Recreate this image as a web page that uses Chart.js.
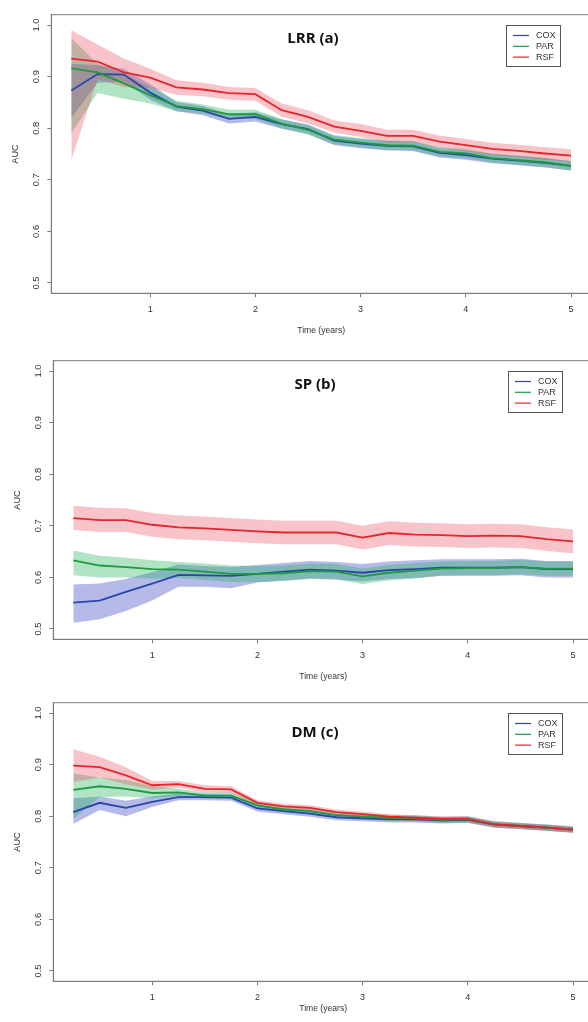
<!DOCTYPE html>
<html>
<head>
<meta charset="utf-8">
<script src="https://cdn.jsdelivr.net/npm/chart.js@4.4.1/dist/chart.umd.min.js"></script>
<style>
  html, body { margin: 0; padding: 0; background: #fff; width: 588px; height: 1022px; overflow: hidden; }
  canvas { position: absolute; }
</style>
</head>
<body>
<canvas id="lrr" width="600" height="340" style="left:0;top:0"></canvas>
<canvas id="sp" width="600" height="340" style="left:2px;top:346px"></canvas>
<canvas id="dm" width="600" height="340" style="left:2px;top:688px"></canvas>
<script>
// tempos de avaliação (anos)
const anos = [0.25, 0.5, 0.75, 1, 1.25, 1.5, 1.75, 2, 2.25, 2.5, 2.75, 3, 3.25, 3.5, 3.75, 4, 4.25, 4.5, 4.75, 5];
const ticksY = [0.5, 0.6, 0.7, 0.8, 0.9, 1.0];
const ticksX = [1, 2, 3, 4, 5];

// LRR (a)
const lrrCox = [0.873, 0.905, 0.904, 0.869, 0.842, 0.834, 0.818, 0.822, 0.808, 0.798, 0.776, 0.770, 0.766, 0.765, 0.752, 0.748, 0.741, 0.737, 0.733, 0.727];
const lrrCoxSup = [0.925, 0.922, 0.915, 0.885, 0.851, 0.843, 0.827, 0.831, 0.817, 0.807, 0.785, 0.779, 0.775, 0.774, 0.761, 0.757, 0.750, 0.746, 0.742, 0.736];
const lrrCoxInf = [0.820, 0.888, 0.890, 0.855, 0.833, 0.825, 0.809, 0.813, 0.799, 0.789, 0.767, 0.761, 0.757, 0.756, 0.743, 0.739, 0.732, 0.728, 0.724, 0.718];
const lrrPar = [0.916, 0.908, 0.887, 0.864, 0.843, 0.837, 0.827, 0.827, 0.809, 0.797, 0.778, 0.772, 0.767, 0.766, 0.754, 0.751, 0.742, 0.738, 0.734, 0.727];
const lrrParSup = [0.975, 0.925, 0.905, 0.880, 0.853, 0.846, 0.836, 0.836, 0.818, 0.806, 0.787, 0.781, 0.776, 0.775, 0.763, 0.760, 0.751, 0.747, 0.743, 0.736];
const lrrParInf = [0.790, 0.868, 0.857, 0.848, 0.833, 0.828, 0.818, 0.818, 0.800, 0.788, 0.769, 0.763, 0.758, 0.757, 0.745, 0.742, 0.733, 0.729, 0.725, 0.718];
const lrrRsf = [0.935, 0.929, 0.908, 0.898, 0.879, 0.875, 0.868, 0.866, 0.835, 0.822, 0.803, 0.795, 0.785, 0.785, 0.774, 0.767, 0.760, 0.756, 0.751, 0.747];
const lrrRsfSup = [0.990, 0.962, 0.935, 0.915, 0.893, 0.888, 0.880, 0.878, 0.848, 0.835, 0.815, 0.808, 0.797, 0.797, 0.786, 0.779, 0.772, 0.768, 0.763, 0.759];
const lrrRsfInf = [0.738, 0.895, 0.880, 0.878, 0.865, 0.862, 0.855, 0.853, 0.822, 0.809, 0.791, 0.783, 0.773, 0.773, 0.762, 0.755, 0.748, 0.744, 0.739, 0.735];

// SP (b)
const spCox = [0.551, 0.555, 0.572, 0.588, 0.605, 0.604, 0.603, 0.607, 0.611, 0.615, 0.613, 0.609, 0.614, 0.616, 0.619, 0.619, 0.619, 0.620, 0.616, 0.616];
const spCoxSup = [0.586, 0.588, 0.597, 0.610, 0.625, 0.622, 0.620, 0.624, 0.628, 0.632, 0.630, 0.626, 0.631, 0.633, 0.635, 0.635, 0.635, 0.636, 0.632, 0.632];
const spCoxInf = [0.512, 0.519, 0.535, 0.555, 0.582, 0.582, 0.579, 0.590, 0.594, 0.598, 0.596, 0.592, 0.597, 0.599, 0.603, 0.603, 0.603, 0.604, 0.600, 0.600];
const spPar = [0.633, 0.623, 0.620, 0.616, 0.615, 0.611, 0.607, 0.607, 0.608, 0.612, 0.611, 0.602, 0.609, 0.613, 0.617, 0.618, 0.618, 0.620, 0.617, 0.617];
const spParSup = [0.652, 0.642, 0.638, 0.633, 0.630, 0.627, 0.623, 0.622, 0.623, 0.627, 0.626, 0.617, 0.624, 0.628, 0.631, 0.632, 0.632, 0.634, 0.631, 0.631];
const spParInf = [0.604, 0.600, 0.600, 0.598, 0.599, 0.595, 0.591, 0.591, 0.593, 0.597, 0.596, 0.587, 0.594, 0.598, 0.603, 0.604, 0.604, 0.606, 0.603, 0.603];
const spRsf = [0.715, 0.711, 0.711, 0.702, 0.697, 0.695, 0.692, 0.689, 0.687, 0.687, 0.687, 0.677, 0.686, 0.683, 0.682, 0.680, 0.681, 0.680, 0.674, 0.670];
const spRsfSup = [0.739, 0.735, 0.734, 0.725, 0.720, 0.718, 0.715, 0.712, 0.710, 0.710, 0.710, 0.700, 0.709, 0.706, 0.705, 0.703, 0.704, 0.703, 0.697, 0.693];
const spRsfInf = [0.692, 0.688, 0.688, 0.679, 0.674, 0.672, 0.669, 0.666, 0.664, 0.664, 0.664, 0.654, 0.663, 0.660, 0.659, 0.657, 0.658, 0.657, 0.651, 0.647];

// DM (c)
const dmCox = [0.808, 0.826, 0.816, 0.828, 0.837, 0.837, 0.836, 0.815, 0.810, 0.805, 0.798, 0.796, 0.794, 0.794, 0.792, 0.793, 0.784, 0.781, 0.778, 0.774];
const dmCoxSup = [0.835, 0.838, 0.830, 0.838, 0.845, 0.843, 0.842, 0.821, 0.816, 0.811, 0.804, 0.802, 0.800, 0.800, 0.798, 0.799, 0.790, 0.787, 0.784, 0.780];
const dmCoxInf = [0.785, 0.812, 0.800, 0.818, 0.831, 0.831, 0.830, 0.809, 0.804, 0.799, 0.792, 0.790, 0.788, 0.788, 0.786, 0.787, 0.778, 0.775, 0.772, 0.768];
const dmPar = [0.851, 0.858, 0.853, 0.845, 0.846, 0.840, 0.840, 0.821, 0.813, 0.810, 0.802, 0.799, 0.797, 0.796, 0.793, 0.794, 0.784, 0.781, 0.778, 0.774];
const dmParSup = [0.883, 0.875, 0.870, 0.858, 0.853, 0.846, 0.846, 0.827, 0.819, 0.816, 0.808, 0.805, 0.803, 0.802, 0.799, 0.800, 0.790, 0.787, 0.784, 0.780];
const dmParInf = [0.795, 0.837, 0.838, 0.835, 0.839, 0.834, 0.834, 0.815, 0.807, 0.804, 0.796, 0.793, 0.791, 0.790, 0.787, 0.788, 0.778, 0.775, 0.772, 0.768];
const dmRsf = [0.898, 0.895, 0.879, 0.860, 0.862, 0.853, 0.852, 0.826, 0.819, 0.816, 0.808, 0.804, 0.799, 0.797, 0.795, 0.795, 0.784, 0.781, 0.778, 0.774];
const dmRsfSup = [0.930, 0.915, 0.895, 0.868, 0.868, 0.860, 0.858, 0.831, 0.824, 0.821, 0.813, 0.809, 0.804, 0.802, 0.800, 0.800, 0.789, 0.786, 0.783, 0.779];
const dmRsfInf = [0.866, 0.875, 0.862, 0.852, 0.855, 0.846, 0.845, 0.820, 0.813, 0.810, 0.802, 0.798, 0.793, 0.791, 0.789, 0.789, 0.778, 0.775, 0.772, 0.768];

const corCox = '#2a46a6';
const corPar = '#1f9a3e';
const corRsf = '#e4262b';
const faixaCox = 'rgba(50,65,195,0.36)';
const faixaPar = 'rgba(25,175,85,0.34)';
const faixaRsf = 'rgba(232,60,80,0.30)';
const corEixo = '#7b7b7b';
const corTexto = '#333';
const fonte = '"Liberation Sans", Arial, sans-serif';

const pts = vals => vals.map((v, i) => ({ x: anos[i], y: v }));

function faixa(sup, inf, cor) {
  return [
    { data: pts(sup), fill: '+1', backgroundColor: cor, borderWidth: 0, pointRadius: 0 },
    { data: pts(inf), fill: false, borderWidth: 0, pointRadius: 0 }
  ];
}

function linha(label, vals, cor) {
  return { label, data: pts(vals), borderColor: cor, borderWidth: 1.8, pointRadius: 0, fill: false, tension: 0, legenda: true };
}

// moldura do gráfico (lado de cima e direito)
const moldura = {
  id: 'moldura',
  afterDraw(chart) {
    const { ctx, chartArea: a } = chart;
    ctx.save();
    ctx.strokeStyle = corEixo;
    ctx.lineWidth = 1;
    ctx.strokeRect(a.left, a.top, a.right - a.left, a.bottom - a.top);
    ctx.restore();
  }
};

const tituloPainel = {
  id: 'tituloPainel',
  afterDraw(chart, args, opts) {
    const ctx = chart.ctx;
    ctx.save();
    ctx.font = 'bold 15px "Open Sans", sans-serif';
    ctx.fillStyle = '#111';
    ctx.textAlign = 'center';
    ctx.textBaseline = 'middle';
    ctx.fillText(opts.text, opts.x, opts.y);
    ctx.restore();
  }
};

const legendaBox = {
  id: 'legendaBox',
  afterDraw(chart, args, opts) {
    const ctx = chart.ctx;
    const itens = chart.data.datasets.filter(d => d.legenda).reverse();
    ctx.save();
    ctx.fillStyle = '#fff';
    ctx.fillRect(opts.x, opts.y, opts.w, opts.h);
    ctx.strokeStyle = '#555';
    ctx.lineWidth = 1;
    ctx.strokeRect(opts.x + 0.5, opts.y + 0.5, opts.w, opts.h);
    ctx.font = '9px ' + fonte;
    ctx.textBaseline = 'middle';
    itens.forEach((d, i) => {
      const y = opts.y + 10.5 + i * 10.8;
      ctx.strokeStyle = d.borderColor;
      ctx.lineWidth = 1.2;
      ctx.beginPath();
      ctx.moveTo(opts.x + 7, y);
      ctx.lineTo(opts.x + 23, y);
      ctx.stroke();
      ctx.fillStyle = corTexto;
      ctx.fillText(d.label, opts.x + 30, y);
    });
    ctx.restore();
  }
};

function criarPainel(id, titulo, tituloY, cox, coxS, coxI, par, parS, parI, rsf, rsfS, rsfI, padTituloX) {
  const grade = { display: true, drawOnChartArea: false, drawTicks: true, tickLength: 4, color: corEixo };
  const borda = { display: true, color: corEixo, width: 1 };
  return new Chart(document.getElementById(id), {
    type: 'line',
    data: {
      datasets: [
        linha('RSF', rsf, corRsf),
        linha('PAR', par, corPar),
        linha('COX', cox, corCox),
        ...faixa(rsfS, rsfI, faixaRsf),
        ...faixa(parS, parI, faixaPar),
        ...faixa(coxS, coxI, faixaCox)
      ]
    },
    options: {
      responsive: false,
      animation: false,
      layout: { padding: { left: 0, top: 14.7, right: 9, bottom: 0 } },
      plugins: {
        legend: { display: false },
        tooltip: { enabled: false },
        filler: { drawTime: 'beforeDatasetsDraw' },
        tituloPainel: { text: titulo, x: 313, y: tituloY },
        legendaBox: { x: 506, y: 25, w: 54, h: 41 }
      },
      scales: {
        x: {
          type: 'linear', min: 0.06, max: 5.19,
          afterBuildTicks: s => { s.ticks = ticksX.map(v => ({ value: v })); },
          ticks: { font: { family: fonte, size: 9 }, color: corTexto, padding: 7, callback: v => String(v) },
          grid: grade, border: borda,
          title: { display: true, text: 'Time (years)', font: { family: fonte, size: 8.6 }, color: corTexto, padding: { top: 0, bottom: padTituloX } },
          afterFit: s => { s.height = 46.7; }
        },
        y: {
          type: 'linear', min: 0.48, max: 1.02,
          afterBuildTicks: s => { s.ticks = ticksY.map(v => ({ value: v })); },
          ticks: { minRotation: 90, maxRotation: 90, crossAlign: 'center', padding: 4.7, font: { family: fonte, size: 9.4 }, color: corTexto, callback: v => v.toFixed(1) },
          grid: grade, border: borda,
          title: { display: true, text: 'AUC', font: { family: fonte, size: 9.2 }, color: corTexto, padding: { top: 10, bottom: 0 } },
          afterFit: s => { s.width = 51.3; }
        }
      }
    },
    plugins: [moldura, tituloPainel, legendaBox]
  });
}

criarPainel('lrr', 'LRR (a)', 39, lrrCox, lrrCoxSup, lrrCoxInf, lrrPar, lrrParSup, lrrParInf, lrrRsf, lrrRsfSup, lrrRsfInf, 4.3);
criarPainel('sp', 'SP (b)', 39, spCox, spCoxSup, spCoxInf, spPar, spParSup, spParInf, spRsf, spRsfSup, spRsfInf, 4.3);
criarPainel('dm', 'DM (c)', 45, dmCox, dmCoxSup, dmCoxInf, dmPar, dmParSup, dmParInf, dmRsf, dmRsfSup, dmRsfInf, 14.3);
</script>
</body>
</html>
